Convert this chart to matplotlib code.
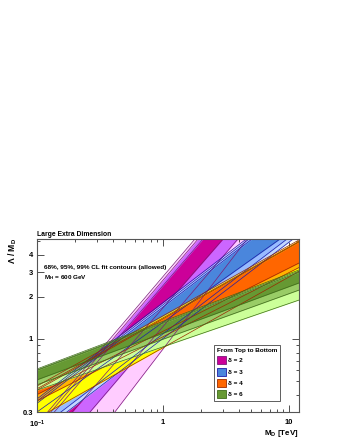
import matplotlib
matplotlib.use("Agg")
import matplotlib.pyplot as plt
from matplotlib.patches import Patch
from matplotlib.ticker import NullFormatter

plt.rcParams["font.family"] = ["Liberation Sans", "DejaVu Sans"]
plt.rcParams["font.weight"] = "bold"
plt.rcParams["mathtext.fontset"] = "custom"
plt.rcParams["mathtext.rm"] = "Liberation Sans:bold"
plt.rcParams["mathtext.bf"] = "Liberation Sans:bold"
plt.rcParams["mathtext.it"] = "Liberation Sans:bold:italic"

# contour edges are straight lines in log-log, given by Lambda/M_D at the two M_D ends
md_ends = [0.1, 12.0]
deltas = ["2", "3", "4", "6"]
cl_levels = ["99", "95", "68"]

# (lower edge, upper edge) for 99%, 95%, 68% CL
d2_edges = [([0.056, 15.9], [0.244, 39.0]),
            ([0.108, 16.9], [0.230, 36.7]),
            ([0.154, 21.9], [0.215, 32.8])]
d3_edges = [([0.206, 5.6], [0.372, 10.1]),
            ([0.222, 6.05], [0.359, 9.75]),
            ([0.300, 6.5], [0.346, 9.4])]
d4_edges = [([0.27, 3.05], [0.46, 5.12]),
            ([0.36, 3.25], [0.44, 5.0]),
            ([0.40, 3.5], [0.43, 4.95])]
d6_edges = [([0.43, 1.90], [0.61, 3.12]),
            ([0.47, 2.24], [0.60, 3.06]),
            ([0.51, 2.52], [0.595, 3.0])]
all_edges = [d2_edges, d3_edges, d4_edges, d6_edges]

# colours: 99%, 95%, 68% fill, then line colour
fill_colors = [["#FFCCFF", "#CC66FF", "#CC0099"],
               ["#C2D6FF", "#99BBFF", "#4A86DC"],
               ["#FFFF00", "#FFB400", "#FF6600"],
               ["#CCFF99", "#99CC66", "#669933"]]
line_colors = ["#7A1A7A", "#1C1CA8", "#9A2A00", "#3F6B1A"]

y_ticks = [0.3, 1, 2, 3, 4]
y_labels = ["0.3", "1", "2", "3", "4"]
x_ticks = [0.1, 1, 10]
x_labels = ["10$^{-1}$", "1", "10"]

fig = plt.figure(figsize=(3.4, 4.4), dpi=100)
W, H = 340.0, 440.0
ax = fig.add_axes([37 / W, 1 - 412 / H, 262 / W, 173 / H])
ax.set_xscale("log")
ax.set_yscale("log")

z = 1
for edges, cols in zip(all_edges, fill_colors):
    for (lo, hi), c in zip(edges, cols):
        ax.fill_between(md_ends, lo, hi, color=c, lw=0, zorder=z)
        z += 1

for edges, lc in zip(all_edges, line_colors):
    for lo, hi in edges:
        ax.plot(md_ends, lo, color=lc, lw=0.5, zorder=20)
        ax.plot(md_ends, hi, color=lc, lw=0.5, zorder=20)

ax.set_xlim(0.1, 12)
ax.set_ylim(0.3, 5.2)
ax.set_xticks(x_ticks, x_labels)
ax.set_xticks([0.2, 0.3, 0.4, 0.5, 0.6, 0.7, 0.8, 0.9, 2, 3, 4, 5, 6, 7, 8, 9], minor=True)
ax.set_yticks(y_ticks, y_labels)
ax.set_yticks([0.4, 0.5, 0.6, 0.7, 0.8, 0.9, 5], minor=True)
ax.xaxis.set_minor_formatter(NullFormatter())
ax.yaxis.set_minor_formatter(NullFormatter())
ax.tick_params(which="both", direction="in", top=True, right=True,
               labelsize=5.4, width=0.6, color="#333333")
ax.tick_params(which="major", length=5)
ax.tick_params(which="minor", length=2.5)
ax.tick_params(axis="x", pad=5)
ax.tick_params(axis="y", pad=3)
for s in ax.spines.values():
    s.set_color("#555555")
    s.set_linewidth(0.8)
    s.set_zorder(30)

fig.text(37 / W, 1 - 238 / H, "Large Extra Dimension", fontsize=4.9, ha="left", va="bottom")
fig.text(44 / W, 1 - 267 / H, "68%, 95%, 99% CL fit contours (allowed)", fontsize=4.6,
         ha="left", va="center")
fig.text(44 / W, 1 - 278 / H, "M$_{\\rm H}$ = 600 GeV", fontsize=4.6, ha="left", va="center")
fig.text(13 / W, 1 - 238 / H, "Λ / M$_{\\rm D}$", fontsize=6.2, rotation=90, ha="center", va="top")
fig.text(299 / W, 1 - 433 / H, "M$_{\\rm D}$ [TeV]", fontsize=5.8, ha="right", va="center")

handles = [Patch(facecolor=cols[2], edgecolor=lc, linewidth=0.6)
           for cols, lc in zip(fill_colors, line_colors)]
labels = ["δ = " + d for d in deltas]
leg = ax.legend(handles, labels, title="From Top to Bottom", loc="lower left",
                bbox_to_anchor=(0.6756, 0.0636), borderaxespad=0, frameon=True,
                fancybox=False, edgecolor="#444444", framealpha=1, fontsize=4.6,
                title_fontsize=4.6, handlelength=1.4, handleheight=1.5,
                handletextpad=0.3, labelspacing=0.55, borderpad=0.45, alignment="left")
leg.get_frame().set_linewidth(0.6)
leg.set_zorder(40)

fig.savefig("out.png", dpi=100)
